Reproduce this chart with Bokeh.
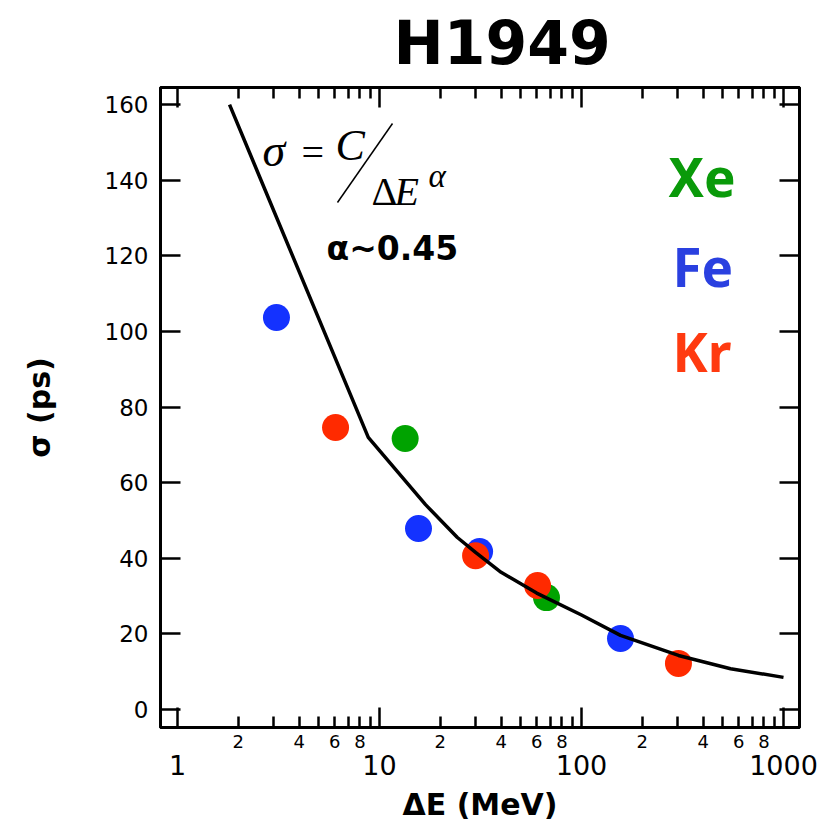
from bokeh.plotting import figure
from bokeh.models import FixedTicker, LogAxis, LinearAxis, Label, Arrow, Range1d
from bokeh.embed import file_html
from bokeh.resources import INLINE

# ---- data ----
fe_x = [3.09, 15.6, 31.3, 156]
fe_y = [103.7, 47.9, 41.8, 18.8]
xe_x = [13.4, 67.1]
xe_y = [71.7, 29.6]
kr_x = [6.06, 29.9, 60.6, 302]
kr_y = [74.6, 40.7, 32.8, 12.2]
fit_x = [1.81, 8.8, 16.9, 24.3, 30, 40, 60, 100, 156, 302, 547, 1000]
fit_y = [160, 72, 54.2, 45.5, 41.5, 36.3, 30.8, 25.0, 19.6, 14.3, 10.8, 8.5]

x_major = [1, 10, 100, 1000]
x_minor = [2, 3, 4, 5, 6, 7, 8, 9, 20, 30, 40, 50, 60, 70, 80, 90,
           200, 300, 400, 500, 600, 700, 800, 900]
x_minor_labelled = [2, 4, 6, 8, 20, 40, 60, 80, 200, 400, 600, 800]
x_minor_text = ["2", "4", "6", "8", "2", "4", "6", "8", "2", "4", "6", "8"]
x_major_text = ["1", "10", "100", "1000"]
y_ticks = [0, 20, 40, 60, 80, 100, 120, 140, 160]

C_FE = "#1432ff"
C_XE = "#00a300"
C_KR = "#ff2a00"

SANS = "DejaVu Sans"

p = figure(width=826, height=825, x_axis_type="log",
           x_range=Range1d(0.824, 1200), y_range=Range1d(-4.76, 164.55),
           output_backend="svg", toolbar_location=None,
           min_border_left=160, min_border_right=27,
           min_border_top=87, min_border_bottom=98)
p.xgrid.visible = False
p.ygrid.visible = False
p.outline_line_color = "black"
p.outline_line_width = 3
p.background_fill_color = "white"
p.border_fill_color = "white"

# title
p.title.text = "H1949"
p.title.align = "left"
p.title.offset = 233
p.title.text_font = SANS
p.title.text_font_style = "bold"
p.title.text_font_size = "60px"
p.title.text_color = "black"
p.title.vertical_align = "top"
p.title.standoff = 15


def tick_axis(ax, ticker):
    ax.ticker = ticker
    ax.major_tick_in = 20
    ax.major_tick_out = 0
    ax.minor_tick_in = 11
    ax.minor_tick_out = 0
    ax.major_tick_line_width = 2.5
    ax.minor_tick_line_width = 2.5
    ax.axis_line_width = 3
    ax.major_label_text_color = "black"
    ax.axis_label_text_color = "black"


def hide_labels(ax):
    ax.major_label_text_font_size = "1px"
    ax.major_label_text_color = None
    ax.major_label_standoff = 0


def label_only_axis(ax):
    ax.axis_line_color = None
    ax.major_tick_line_color = None
    ax.minor_tick_line_color = None
    ax.major_tick_in = 0
    ax.major_tick_out = 0
    ax.major_label_text_color = "black"
    ax.axis_label_text_color = "black"
    ax.major_label_text_font = SANS


# bottom axis A: tick marks only
xa = p.xaxis[0]
tick_axis(xa, FixedTicker(ticks=x_major, minor_ticks=x_minor))
hide_labels(xa)

# bottom axis B: labels 2,4,6,8
xb = LogAxis(ticker=FixedTicker(ticks=x_minor_labelled, minor_ticks=[]))
xb.major_label_overrides = {v: t for v, t in zip(x_minor_labelled, x_minor_text)}
label_only_axis(xb)
xb.major_label_standoff = 7
xb.major_label_text_font_size = "18px"
p.add_layout(xb, "below")

# bottom axis C: decade labels + axis title
xc = LogAxis(ticker=FixedTicker(ticks=x_major, minor_ticks=[]))
xc.major_label_overrides = {v: t for v, t in zip(x_major, x_major_text)}
label_only_axis(xc)
xc.major_label_standoff = 4
xc.major_label_text_font_size = "27px"
xc.axis_label = "ΔE (MeV)"
xc.axis_label_text_font = SANS
xc.axis_label_text_font_style = "bold"
xc.axis_label_text_font_size = "30px"
xc.axis_label_standoff = 9
p.add_layout(xc, "below")

# top mirror axis
xt = LogAxis()
tick_axis(xt, FixedTicker(ticks=x_major, minor_ticks=x_minor))
hide_labels(xt)
p.add_layout(xt, "above")

# left axis
ya = p.yaxis[0]
tick_axis(ya, FixedTicker(ticks=y_ticks, minor_ticks=[]))
ya.major_label_text_font = SANS
ya.major_label_text_font_size = "23px"
ya.major_label_standoff = 12
ya.axis_label = "σ (ps)"
ya.axis_label_text_font = SANS
ya.axis_label_text_font_style = "bold"
ya.axis_label_text_font_size = "30px"
ya.axis_label_standoff = 45

# right mirror axis
yr = LinearAxis()
tick_axis(yr, FixedTicker(ticks=y_ticks, minor_ticks=[]))
hide_labels(yr)
p.add_layout(yr, "right")

# data
p.scatter(fe_x, fe_y, size=27, color=C_FE, line_color=None)
p.scatter(xe_x, xe_y, size=27, color=C_XE, line_color=None)
p.scatter(kr_x, kr_y, size=27, color=C_KR, line_color=None)
p.line(fit_x, fit_y, line_color="black", line_width=3.5)


# annotation placement helpers (pixel position in the reference -> data coords)
def fx(px):
    return 10 ** ((px - 177) / 202)


def fy(py):
    return (709 - py) / 3.78


SERIF = "Liberation Serif"
NOTO = "Noto Sans"
# empirical baseline correction (fraction of font size) per font
SHIFT = {SERIF: 0.28, SANS: 0.30, NOTO: 0.42}


def lab(x, y, text, size, font=SERIF, style="normal", color="black"):
    y_adj = y - SHIFT[font] * size
    p.add_layout(Label(x=fx(x), y=fy(y_adj), text=text, text_font=font,
                       text_font_style=style, text_font_size=f"{size}px",
                       text_color=color, text_baseline="alphabetic",
                       text_align="left"))


# formula
lab(262, 163, "σ", 46, style="italic")
lab(301, 163, "=", 40)
lab(335, 157, "C", 44, style="italic")
p.add_layout(Arrow(end=None, x_start=fx(337), y_start=fy(202), x_end=fx(392),
                   y_end=fy(123), line_width=1.5, line_color="black"))
lab(371, 202, "Δ", 40)
lab(394, 202, "E", 40, style="italic")
lab(428, 185, "α", 33, style="italic")
lab(326, 258, "α~0.45", 33, font=SANS, style="bold")

lab(668, 198, "Xe", 53, font=NOTO, style="bold", color="#0a9a0a")
lab(672, 288, "Fe", 53, font=NOTO, style="bold", color="#2a40e0")
lab(672, 373, "Kr", 53, font=NOTO, style="bold", color="#ff3a10")

open("out.html", "w").write(file_html(p, INLINE))
